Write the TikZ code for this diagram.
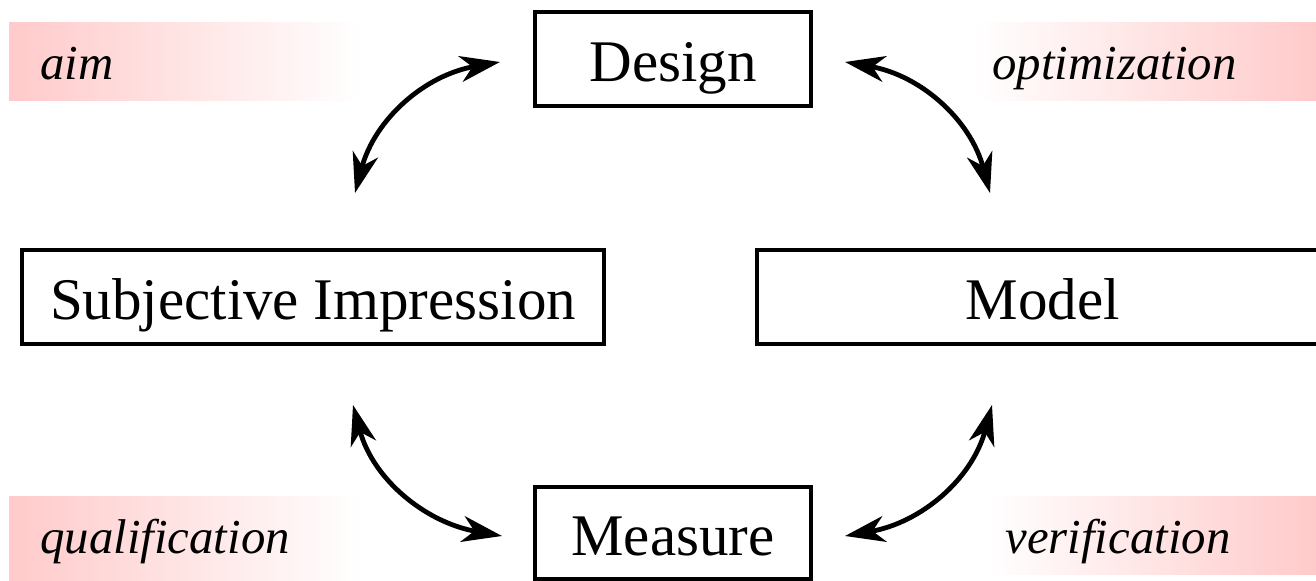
\documentclass[tikz,border=0pt]{standalone}
\usepackage{fontspec}
\setmainfont{Liberation Serif}
\usetikzlibrary{arrows.meta}
\definecolor{bandpink}{RGB}{255,202,202}
\tikzset{
  box/.style={draw=black, line width=2.4pt, inner sep=0pt, text height=27pt, text depth=4pt, font=\fontsize{29.5}{35}\selectfont},
  lbl/.style={inner sep=0pt, anchor=base west, font=\fontsize{24.4}{29}\selectfont\itshape},
  conn/.style={line width=2.4pt, {Stealth[length=20pt,width=13pt,inset=6pt]}-{Stealth[length=20pt,width=13pt,inset=6pt]}},
}
\begin{document}
\begin{tikzpicture}[x=0.5pt,y=0.5pt]
\useasboundingbox (0,0) rectangle (1316,581);
% gradient bands
\shade[left color=bandpink, right color=white] (9,480) rectangle (362,558);
\shade[left color=white, right color=bandpink] (973,480) rectangle (1316,558);
\shade[left color=bandpink, right color=white] (9,0) rectangle (362,84);
\shade[left color=white, right color=bandpink] (987,6) rectangle (1316,84);
% labels
\node[lbl] (aim) at (40,501) {aim};
\node[lbl] (opt) at (992,501) {optimization};
\node[lbl] (qual) at (40,27) {qualification};
\node[lbl] (veri) at (1005,27) {verification};
% boxes
\node[box, minimum width=138pt, minimum height=47pt] (design) at (673,522) {Design};
\node[box, minimum width=138pt, minimum height=46pt] (measure) at (673,48) {Measure};
\node[box, minimum width=291pt, minimum height=47pt] (subj) at (313,284) {Subjective Impression};
\node[box, minimum width=286pt, minimum height=47pt] (model) at (1043,284) {Model};
% connector ends
\coordinate (a1s) at (355,388);
\coordinate (a1e) at (500,519);
\coordinate (a2s) at (845,519);
\coordinate (a2e) at (990,388);
\coordinate (a3s) at (353,176);
\coordinate (a3e) at (502,45);
\coordinate (a4s) at (845,45);
\coordinate (a4e) at (992,176);
\draw[conn] (a1s) to[out=75,in=190] (a1e);
\draw[conn] (a2s) to[out=-10,in=105] (a2e);
\draw[conn] (a3s) to[out=-75,in=170] (a3e);
\draw[conn] (a4s) to[out=10,in=255] (a4e);
\end{tikzpicture}
\end{document}
